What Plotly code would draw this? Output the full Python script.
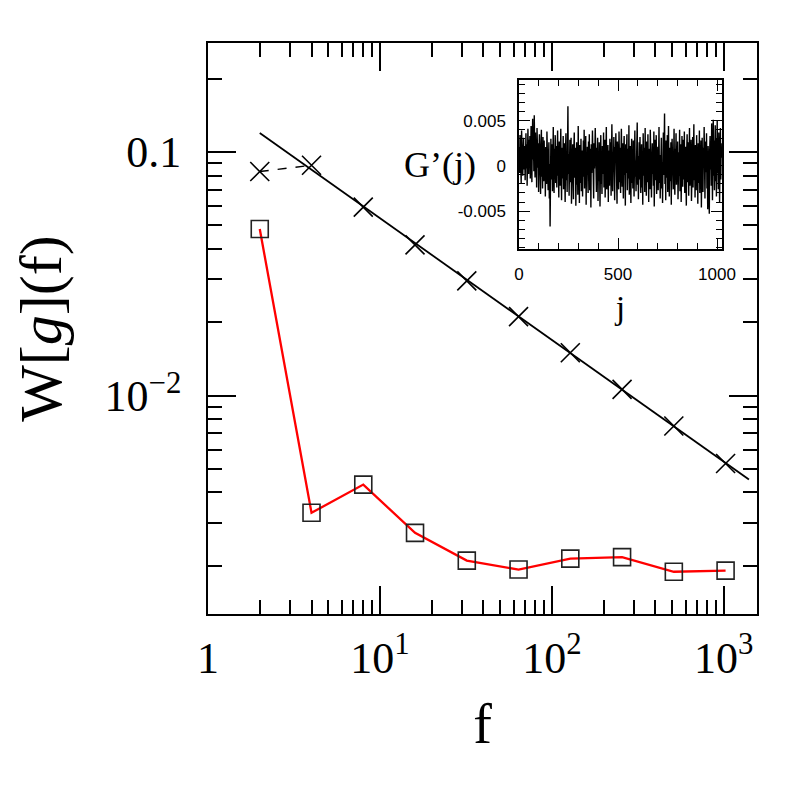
import plotly.graph_objects as go

# ---------------- data ----------------
f_vals = [2, 4, 8, 16, 32, 64, 128, 256, 512, 1024]
w_cross = [0.0832, 0.0883, 0.0594, 0.0416, 0.0296, 0.0211, 0.0150, 0.0106, 0.0075, 0.00526]
w_square = [0.0483, 0.00330, 0.00431, 0.00273, 0.00210, 0.00193, 0.00214, 0.00217, 0.00189, 0.00191]

fit_f = [2, 1400]
fit_w = [0.1197, 0.00452]

x_tickvals = [1, 10, 100, 1000]
x_ticktext = ["1", "10<sup>1</sup>", "10<sup>2</sup>", "10<sup>3</sup>"]
x_minor = [2, 3, 4, 5, 6, 7, 8, 9, 20, 30, 40, 50, 60, 70, 80, 90,
           200, 300, 400, 500, 600, 700, 800, 900]
y_tickvals = [0.01, 0.1]
y_ticktext = ["10<sup>\u22122</sup>", "0.1"]
y_minor = [0.002, 0.003, 0.004, 0.005, 0.006, 0.007, 0.008, 0.009,
           0.02, 0.03, 0.04, 0.05, 0.06, 0.07, 0.08, 0.09, 0.2]

# inset series G'(j), values in units of 1e-3, read at every second j
g_milli = [
    2.1, -0.8, 3.4, 0.5, 1.8, -1.9, 3.9, 0.2, 2.7, -1.1, 1.4, 3.1, -0.4, 2.2, 0.9, -1.6,
    1.7, 3.6, -0.3, 2.4, -2.2, 0.8, 4.1, 1.2, -0.9, 2.9, 0.1, 3.3, -1.4, 1.6, 4.4, 0.4,
    -1.8, 2.6, 5.2, 0.7, 3.0, -0.6, 5.6, 1.9, -1.3, 3.7, 0.3, 2.0, -2.4, 4.2, 1.1, -0.2,
    2.5, -2.9, 1.3, 3.5, -0.7, 0.6, -3.1, 2.3, 4.0, -1.2, 1.0, -2.5, 3.2, 0.0, -1.7, 2.8,
    -0.5, 1.5, -3.4, 2.1, 0.4, -2.0, 3.8, -1.0, 1.8, -2.7, 0.9, 2.6, -3.6, 0.2, -6.7, 1.4,
    3.0, -1.5, 0.5, 2.4, -2.8, 1.2, 4.3, -0.6, -3.0, 1.9, 0.1, 3.4, -1.9, 2.2, -0.3, -2.4,
    1.6, 3.9, -1.1, 0.3, -3.5, 2.7, 0.8, -2.2, 1.1, 4.1, -0.8, -3.8, 2.0, 0.6, -1.4, 3.3,
    -2.6, 0.9, 2.5, -0.2, -4.0, 1.7, 3.6, -1.6, 0.4, -2.9, 2.2, 6.6, -0.9, 1.3, -3.3, 0.7,
    2.9, -1.8, -0.1, 3.1, -4.2, 1.0, -2.3, 2.4, 0.5, -3.7, 1.8, 3.7, -1.3, -0.4, 2.0, -4.4,
    0.8, 2.6, -2.1, 1.4, -3.2, 4.4, -0.7, 0.2, -4.1, 2.3, 1.1, -1.9, 3.0, -2.8, 0.6, 1.7,
    -3.4, 0.3, 2.8, -1.2, 4.0, -2.5, 0.9, -0.5, 3.3, -4.3, 1.5, -1.0, 2.1, 0.4, -3.0, 2.7,
    -1.6, 3.5, -2.7, 0.1, 1.9, -4.6, 2.4, -0.8, 1.2, 3.9, -2.2, 0.7, -3.6, 2.5, -0.3, 1.3,
    4.2, -1.4, 0.6, -2.9, 2.0, -0.6, 3.1, -3.9, 1.0, -1.7, 2.6, 0.2, -4.5, 1.6, 3.4, -2.0,
    0.5, -3.1, 2.2, 1.1, -0.9, 3.7, -2.4, 0.0, 2.9, -3.5, 1.4, -1.1, 4.3, -2.6, 0.8, -0.4,
    2.3, -4.0, 1.7, 0.3, -2.2, 3.0, -1.5, 2.6, -3.3, 0.9, 4.6, -0.7, -2.8, 1.5, 0.1, 3.2,
    -1.3, -3.8, 2.1, 0.6, 3.6, -2.0, 1.0, -4.2, 2.7, -0.2, 1.3, -2.6, 3.8, 0.4, -1.8, 2.0,
    -3.0, 1.2, 4.1, -0.5, -2.3, 2.5, 0.7, -3.6, 1.8, 3.3, -1.0, 0.3, -4.4, 2.4, -0.8, 1.6,
    3.5, -2.7, 0.2, 1.9, -1.4, 4.5, -3.2, 0.8, 2.2, -0.6, -4.1, 1.4, 3.0, -1.9, 0.5, -2.5,
    2.8, 0.0, -3.4, 1.7, 3.9, -1.2, 0.6, -2.8, 2.3, -0.3, 4.8, -2.1, 1.1, -3.7, 0.4, 2.6,
    -1.5, 3.2, -0.4, -3.0, 1.6, 2.4, -2.4, 0.9, -4.3, 3.6, 0.2, -1.1, 2.0, -2.9, 4.2, -0.7,
    1.3, -3.3, 2.7, 0.5, -1.8, 3.5, -0.2, -4.0, 1.9, 0.7, -2.6, 4.0, -1.3, 2.2, -3.5, 0.3,
    2.5, -0.9, 1.0, -2.2, 3.8, -4.5, 0.6, 2.9, -1.6, 0.1, 3.4, -3.1, 1.5, -0.5, 2.1, -2.7,
    0.8, 4.3, -1.9, 1.2, -3.6, 2.4, -0.3, 3.1, -2.5, 0.4, -4.1, 1.8, 3.7, -1.0, 0.9, 5.8,
    -2.0, 1.6, -3.8, 2.8, 0.2, -1.3, 3.4, -2.9, 1.1, 4.4, -0.6, -3.4, 2.0, 0.5, -1.7, 2.6,
    -4.3, 1.4, 3.0, -0.8, 2.3, -2.6, 0.7, 4.1, -1.4, -3.2, 1.9, 0.0, 3.6, -2.1, 1.0, -0.4,
    2.7, -3.7, 0.9, 1.5, -1.1, 4.0, -2.8, 0.3, 2.4, -4.0, 1.2, 3.3, -0.9, -2.3, 2.9, 0.6,
    -1.5, 3.8, -3.0, 0.8, 2.1, -0.5, -4.4, 1.7, 3.5, -1.8, 0.4, 2.6, -3.3, 1.3, 4.2, -2.2,
    0.1, -1.0, 2.9, -3.9, 1.6, 0.5, 3.2, -2.4, -0.2, 4.6, -1.6, 1.0, -3.5, 2.3, 0.7, -2.7,
    3.4, -0.6, 1.8, -4.2, 2.5, 0.2, -1.9, 3.9, -3.0, 1.1, -0.3, 2.8, -4.6, 1.5, 3.1, -1.2,
    -2.9, 2.0, 0.6, 4.3, -1.4, -3.6, 1.3, 2.7, -0.7, 3.6, -2.5, 0.9, -4.8, 2.2, 1.0, -3.1,
    -5.3, 1.7, 3.3, -0.4, 2.4, -2.2, 4.7, 0.3, -3.8, 1.9, 5.1, -1.1, 2.8, -2.7, 0.8, 4.5,
    -1.7, 3.0, -3.4, 1.4, 5.0, -0.8, 2.1, -2.6, 3.7, 0.5, -4.0, 1.2, 4.2, -1.5, 2.5, 0.9,
]
j_vals = list(range(1, 2 * len(g_milli) + 1, 2))
g_vals = [v * 1e-3 for v in g_milli]

inset_x_ticks = [0, 500, 1000]
inset_x_minor = [100, 200, 300, 400, 600, 700, 800, 900]
inset_y_ticks = [-0.005, 0, 0.005]
inset_y_ticktext = ["-0.005", "0", "0.005"]
inset_y_minor = [-0.009, -0.008, -0.007, -0.006, -0.004, -0.003, -0.002, -0.001,
                 0.001, 0.002, 0.003, 0.004, 0.006, 0.007, 0.008, 0.009]

# ---------------- figure ----------------
SERIF = "Liberation Serif"
SANS = "Liberation Sans"

fig = go.Figure()

# red line through squares
fig.add_trace(go.Scatter(x=f_vals, y=w_square, mode="lines",
                         line=dict(color="#ff0000", width=2.3), showlegend=False,
                         xaxis="x", yaxis="y"))
fig.add_trace(go.Scatter(x=f_vals, y=w_square, mode="markers",
                         marker=dict(symbol="square-open", size=17, color="#222222",
                                     line=dict(width=1.6, color="#222222")),
                         showlegend=False, xaxis="x", yaxis="y"))
# fit line
fig.add_trace(go.Scatter(x=fit_f, y=fit_w, mode="lines",
                         line=dict(color="black", width=1.8), showlegend=False,
                         xaxis="x", yaxis="y"))
# dashed link between first two crosses
fig.add_trace(go.Scatter(x=f_vals[:2], y=w_cross[:2], mode="lines",
                         line=dict(color="black", width=1.4, dash="dash"), showlegend=False,
                         xaxis="x", yaxis="y"))
fig.add_trace(go.Scatter(x=f_vals, y=w_cross, mode="markers",
                         marker=dict(symbol="x-thin", size=19, color="black",
                                     line=dict(width=1.6, color="black")),
                         showlegend=False, xaxis="x", yaxis="y"))

# inset series
fig.add_trace(go.Scatter(x=j_vals, y=g_vals, mode="lines",
                         line=dict(color="black", width=1.4), showlegend=False,
                         xaxis="x2", yaxis="y2"))

fig.update_layout(
    width=797, height=797, autosize=False,
    margin=dict(l=200, r=48, t=35, b=191, pad=0),
    paper_bgcolor="white", plot_bgcolor="white",
    xaxis=dict(
        type="log", range=[0, 3.193], domain=[0, 1], anchor="y",
        showline=True, linecolor="black", linewidth=1.8, mirror="allticks",
        ticks="inside", ticklen=28, tickwidth=1.5, tickcolor="black",
        tickmode="array", tickvals=x_tickvals, ticktext=x_ticktext,
        minor=dict(tickmode="array", tickvals=x_minor, ticks="inside",
                   ticklen=14, tickwidth=1.5, tickcolor="black", showgrid=False),
        showgrid=False, zeroline=False,
        tickfont=dict(family=SERIF, size=44, color="black"),
        ticklabelstandoff=4,
        title=dict(text="f", font=dict(family=SERIF, size=56, color="black"), standoff=22),
    ),
    yaxis=dict(
        type="log", range=[-2.897, -0.552], domain=[0, 1], anchor="x",
        showline=True, linecolor="black", linewidth=1.8, mirror="allticks",
        ticks="inside", ticklen=28, tickwidth=1.5, tickcolor="black",
        tickmode="array", tickvals=y_tickvals, ticktext=y_ticktext,
        minor=dict(tickmode="array", tickvals=y_minor, ticks="inside",
                   ticklen=14, tickwidth=1.5, tickcolor="black", showgrid=False),
        showgrid=False, zeroline=False,
        tickfont=dict(family=SERIF, size=44, color="black"),
        ticklabelstandoff=16,
        title=dict(text="W[<i>g</i>](f)", font=dict(family=SERIF, size=60, color="black"),
                   standoff=26),
    ),
    xaxis2=dict(
        range=[0, 1025], domain=[0.5665, 0.9362], anchor="y2",
        showline=True, linecolor="black", linewidth=1.5, mirror="allticks",
        ticks="inside", ticklen=11, tickwidth=1.3, tickcolor="black",
        tickmode="array", tickvals=inset_x_ticks,
        minor=dict(tickmode="array", tickvals=inset_x_minor, ticks="inside",
                   ticklen=6, tickwidth=1.3, tickcolor="black", showgrid=False),
        showgrid=False, zeroline=False,
        tickfont=dict(family=SANS, size=17, color="black"),
        ticklabelstandoff=9,
        title=dict(text="j", font=dict(family=SERIF, size=34, color="black"), standoff=12),
    ),
    yaxis2=dict(
        range=[-0.0092, 0.0095], domain=[0.6392, 0.9352], anchor="x2",
        showline=True, linecolor="black", linewidth=1.5, mirror="allticks",
        ticks="inside", ticklen=11, tickwidth=1.3, tickcolor="black",
        tickmode="array", tickvals=inset_y_ticks, ticktext=inset_y_ticktext,
        minor=dict(tickmode="array", tickvals=inset_y_minor, ticks="inside",
                   ticklen=6, tickwidth=1.3, tickcolor="black", showgrid=False),
        showgrid=False, zeroline=False,
        tickfont=dict(family=SANS, size=17, color="black"),
        ticklabelstandoff=8,
    ),
    annotations=[dict(
        text="G\u2019(j)", xref="paper", yref="paper", x=0.4226, y=0.7863,
        xanchor="center", yanchor="middle", showarrow=False,
        font=dict(family=SERIF, size=36, color="black"),
    )],
)

fig.write_html("out.html")
